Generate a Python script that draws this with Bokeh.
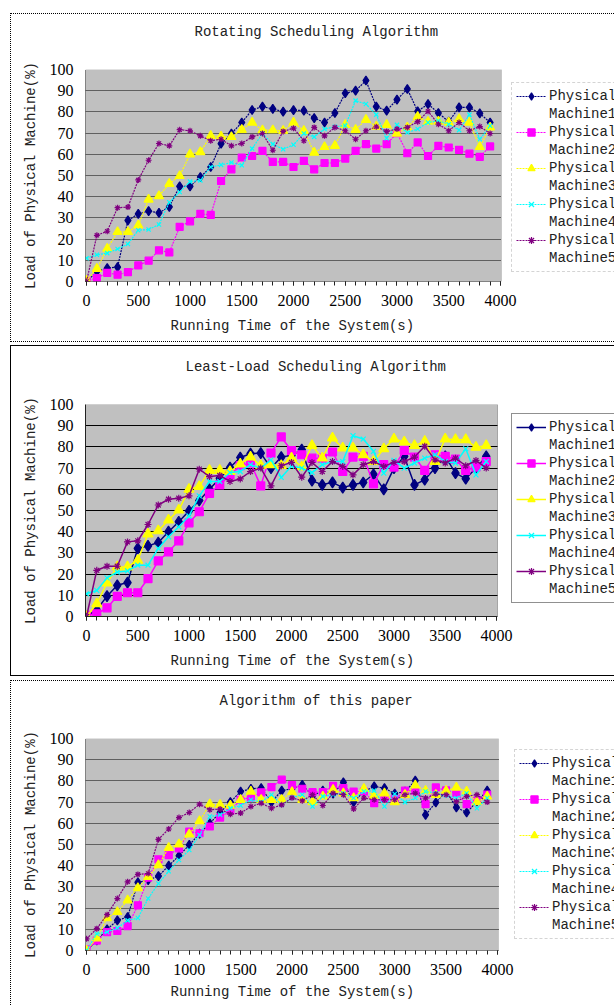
from bokeh.plotting import figure
from bokeh.layouts import column
from bokeh.models import Legend, LegendItem, SingleIntervalTicker, Range1d, Spacer, BoxAnnotation, Title
from bokeh.embed import file_html
from bokeh.resources import INLINE
from bokeh.core.properties import value

times = [0, 100, 200, 300, 400, 500, 600, 700, 800, 900,
         1000, 1100, 1200, 1300, 1400, 1500, 1600, 1700, 1800, 1900,
         2000, 2100, 2200, 2300, 2400, 2500, 2600, 2700, 2800, 2900,
         3000, 3100, 3200, 3300, 3400, 3500, 3600, 3700, 3800, 3900]

machines = ["Machine1", "Machine2", "Machine3", "Machine4", "Machine5"]

titles = ["Rotating Scheduling Algorithm", "Least-Load Scheduling Algorithm", "Algorithm of this paper"]
x_label = "Running Time of the System(s)"
y_label = "Load of Physical Machine(%)"

# Rotating Scheduling Algorithm
rot_m1 = [0, 4.7, 6.3, 6.8, 28.8, 31.9, 33.2, 32.4, 35.2, 44.9, 44.9, 49.3, 54.0, 65.0, 69.8, 75.0, 80.9, 82.5, 81.4, 80.1,
          80.8, 80.6, 77.1, 75.0, 79.5, 88.8, 90.0, 94.8, 82.5, 80.6, 85.8, 90.8, 80.3, 83.7, 79.5, 75.4, 82.1, 82.1, 79.3, 75.0]
rot_m2 = [0.3, 1.6, 4.1, 3.2, 4.4, 7.6, 9.8, 14.7, 13.7, 25.8, 28.4, 31.9, 31.4, 47.4, 52.9, 58.5, 59.2, 61.6, 56.4, 56.4,
          54.0, 56.9, 52.9, 55.9, 55.9, 58.0, 61.6, 64.8, 62.7, 64.8, 70.0, 60.5, 65.6, 59.2, 64.0, 63.2, 62.1, 60.3, 58.8, 63.7]
rot_m3 = [0.5, 6.0, 15.5, 23.4, 23.4, 26.5, 38.7, 40.3, 46.1, 49.8, 60.0, 61.1, 68.7, 68.4, 68.2, 71.6, 75.0, 71.4, 71.4, 71.1,
          75.0, 71.1, 60.8, 63.5, 64.0, 73.9, 71.6, 76.3, 73.1, 73.9, 69.8, 72.7, 77.7, 75.4, 75.5, 75.0, 76.6, 75.0, 63.5, 72.7]
rot_m4 = [11.0, 12.6, 13.4, 15.3, 17.7, 24.2, 24.5, 26.9, 37.4, 42.2, 47.1, 47.7, 54.0, 55.0, 56.1, 54.8, 62.7, 69.8, 64.8, 62.4,
          64.5, 69.8, 68.2, 71.9, 73.0, 73.5, 85.3, 83.7, 78.7, 67.6, 73.9, 70.3, 71.9, 75.0, 75.8, 74.2, 71.4, 78.7, 67.1, 73.5]
rot_m5 = [0, 21.8, 23.7, 34.8, 35.1, 47.9, 57.2, 65.1, 64.0, 71.6, 71.1, 68.7, 66.4, 67.1, 64.0, 65.1, 68.2, 69.8, 61.9, 70.8,
          72.3, 66.4, 72.7, 68.7, 72.7, 71.1, 67.1, 71.1, 73.0, 70.8, 71.9, 72.7, 75.4, 80.3, 74.2, 71.1, 75.0, 71.1, 73.1, 69.8]

# Least-Load Scheduling Algorithm
ll_m1 = [0, 3.2, 9.6, 14.7, 16.0, 32.1, 33.3, 34.9, 40.0, 44.7, 49.8, 54.7, 60.0, 65.2, 70.3, 75.0, 76.8, 77.1, 70.0, 75.2,
         76.0, 78.7, 64.1, 62.1, 63.3, 60.8, 62.1, 63.2, 67.1, 60.0, 70.0, 75.5, 62.1, 64.5, 70.0, 75.5, 67.6, 65.0, 70.0, 75.5]
ll_m2 = [0.5, 1.3, 4.1, 9.5, 11.2, 11.2, 17.9, 26.2, 30.5, 35.7, 44.2, 49.4, 58.1, 62.1, 66.8, 71.1, 72.4, 61.6, 77.1, 84.7,
         78.2, 76.3, 74.7, 74.7, 77.6, 68.4, 75.2, 75.5, 62.6, 71.6, 70.5, 78.4, 75.2, 68.9, 76.3, 75.5, 74.2, 68.9, 70.5, 73.1]
ll_m3 = [0, 6.0, 15.8, 23.4, 23.4, 26.5, 38.9, 40.4, 45.5, 50.2, 60.0, 61.3, 68.9, 68.9, 68.4, 71.9, 75.2, 71.2, 71.6, 71.2,
         74.7, 70.5, 80.6, 74.7, 84.2, 79.5, 79.5, 76.3, 73.1, 79.1, 83.7, 82.3, 80.6, 82.6, 73.1, 83.7, 83.4, 83.4, 79.8, 80.6]
ll_m4 = [10.7, 12.3, 18.2, 21.0, 21.5, 24.2, 24.2, 32.1, 37.6, 42.3, 47.4, 56.9, 63.7, 63.7, 67.9, 68.4, 71.6, 70.0, 73.9, 65.6,
         71.0, 70.0, 67.9, 71.6, 73.1, 73.1, 85.3, 83.7, 77.9, 67.6, 73.6, 70.0, 72.4, 74.7, 76.3, 73.1, 72.4, 79.1, 66.8, 73.1]
ll_m5 = [0, 21.8, 23.7, 23.7, 35.2, 35.7, 43.4, 52.6, 55.3, 55.8, 56.9, 69.5, 66.0, 66.5, 63.7, 64.9, 68.4, 70.0, 61.6, 71.1,
         72.7, 65.7, 72.7, 68.4, 73.1, 70.8, 66.8, 71.6, 73.1, 70.8, 72.7, 73.1, 75.2, 80.3, 73.9, 72.4, 74.7, 71.1, 73.6, 70.0]

# Algorithm of this paper
tp_m1 = [0, 4.7, 10.0, 14.2, 15.8, 32.1, 33.2, 35.1, 40.0, 44.7, 49.8, 55.1, 60.0, 65.1, 70.0, 75.0, 76.3, 76.6, 70.0, 75.4,
         76.3, 78.2, 73.0, 75.4, 74.0, 79.3, 70.0, 75.0, 77.4, 76.6, 74.0, 75.0, 80.1, 64.0, 69.8, 75.0, 67.5, 65.1, 70.3, 75.4]
tp_m2 = [0.5, 4.7, 8.7, 9.2, 11.5, 21.3, 34.4, 43.0, 45.0, 48.2, 56.1, 55.3, 58.5, 62.7, 66.0, 71.1, 72.2, 74.6, 77.1, 80.6,
         78.0, 76.3, 74.7, 74.7, 77.7, 76.6, 75.0, 75.0, 69.5, 71.9, 71.4, 75.4, 75.4, 69.0, 76.9, 75.5, 74.2, 69.0, 70.6, 73.5]
tp_m3 = [0, 5.8, 15.3, 18.2, 23.7, 29.5, 34.8, 40.3, 48.5, 50.1, 54.8, 61.1, 69.0, 68.7, 68.4, 71.1, 75.0, 71.1, 71.1, 71.1,
         74.8, 71.1, 70.0, 72.7, 75.8, 74.2, 71.9, 76.3, 73.1, 74.2, 70.0, 73.5, 77.9, 75.4, 73.5, 75.4, 76.9, 75.0, 70.0, 72.7]
tp_m4 = [0, 7.9, 8.7, 10.6, 14.2, 15.3, 24.5, 31.6, 37.4, 42.7, 47.4, 54.5, 63.2, 64.0, 67.1, 68.4, 71.1, 70.0, 73.5, 68.7,
         72.0, 73.5, 67.9, 72.7, 73.5, 74.2, 71.9, 75.0, 75.4, 67.9, 73.8, 70.0, 71.9, 75.0, 74.2, 73.1, 71.9, 74.2, 67.1, 71.9]
tp_m5 = [5.5, 10.3, 16.9, 24.5, 32.4, 35.9, 36.3, 52.4, 57.3, 62.7, 65.1, 69.0, 66.4, 66.7, 64.3, 64.8, 67.9, 69.5, 67.1, 68.7,
         72.0, 70.6, 73.5, 68.4, 74.2, 73.5, 66.8, 71.9, 71.1, 71.1, 71.1, 73.5, 74.2, 71.9, 73.8, 73.5, 70.3, 72.7, 73.5, 70.0]

colors = ["#000080", "#FF00FF", "#FFFF00", "#00FFFF", "#800080"]
markers = ["diamond", "square", "triangle", "x", "asterisk"]

MONO = "Liberation Mono"
SERIF = "Liberation Serif"
X0, X1 = -10, 4010      # extent of the grey plot area in data units
FRAME_W = 530           # frame runs to the right edge of the canvas (legend sits inside it)


def text_title(text, offset, standoff):
    return Title(text=text, align="left", offset=offset, standoff=standoff,
                 text_font=MONO, text_font_size="14px", text_font_style="normal",
                 text_color="#222222")


def make_panel(title, title_off, series, height, frame_top, plot_w, bottom, xlab_standoff,
               solid, legend_pos, css):
    x_end = X0 + FRAME_W * (X1 - X0) / plot_w
    p = figure(width=604, height=height, output_backend="svg", toolbar_location=None, title=None,
               x_range=Range1d(X0, x_end), y_range=Range1d(0, 100),
               min_border_left=74, min_border_right=0,
               min_border_top=frame_top, min_border_bottom=bottom)
    p.styles = css
    p.margin = (0, 0, 0, 10)
    p.background_fill_color = "white"
    p.border_fill_color = "white"
    p.outline_line_color = None

    dash = "solid" if solid else "1 1"
    p.add_layout(BoxAnnotation(left=X0, right=X1, bottom=0, top=100, level="image",
                               fill_color="#C0C0C0", fill_alpha=1,
                               line_color="#222222" if solid else "#444444",
                               line_dash=dash, line_width=1))

    p.xgrid.visible = False
    p.ygrid.ticker = SingleIntervalTicker(interval=10)
    p.ygrid.grid_line_color = "black"
    p.ygrid.grid_line_width = 1
    p.ygrid.grid_line_dash = dash
    p.ygrid.cross_bounds = (X0, X1)

    # chart title: a blank spacer title next to the frame, then the real one above it
    p.add_layout(text_title(" ", 0, 12), "above")
    p.add_layout(text_title(title, title_off, 0), "above")

    xa = p.xaxis[0]
    xa.bounds = (X0, X1)
    xa.ticker = SingleIntervalTicker(interval=500, num_minor_ticks=5)
    xa.axis_line_color = "#222222"
    xa.axis_line_dash = dash
    xa.major_tick_out = 4
    xa.major_tick_in = 0
    xa.minor_tick_out = 4
    xa.minor_tick_in = 0
    xa.major_tick_line_color = "#222222"
    xa.minor_tick_line_color = "#222222"
    xa.major_label_text_font = SERIF
    xa.major_label_text_font_size = "16px"
    xa.major_label_text_color = "black"
    xa.major_label_standoff = 9
    # x-axis title centred under the grey plot area
    p.add_layout(text_title(x_label, 85, xlab_standoff), "below")

    ya = p.yaxis[0]
    ya.ticker = SingleIntervalTicker(interval=10)
    ya.axis_line_color = "#222222"
    ya.axis_line_dash = dash
    ya.major_tick_out = 0
    ya.major_tick_in = 0
    ya.minor_tick_out = 0
    ya.minor_tick_in = 0
    ya.major_label_text_font = SERIF
    ya.major_label_text_font_size = "16px"
    ya.major_label_text_color = "black"
    ya.major_label_standoff = 12
    ya.axis_label = y_label
    ya.axis_label_text_font = MONO
    ya.axis_label_text_font_size = "14px"
    ya.axis_label_text_font_style = "normal"
    ya.axis_label_text_color = "#222222"
    ya.axis_label_standoff = 8

    items = []
    for name, vals, c, m in zip(machines, series, colors, markers):
        if solid:
            lr = p.line(times, vals, line_color=c, line_width=1.5)
            msize = {"diamond": 11, "square": 8, "triangle": 10, "x": 7, "asterisk": 7}[m]
        else:
            lr = p.line(times, vals, line_color=c, line_width=1.2, line_dash="2 1")
            msize = {"diamond": 9, "square": 7, "triangle": 9, "x": 6, "asterisk": 6}[m]
        sr = p.scatter(times, vals, marker=m, size=msize, fill_color=c, line_color=c, line_width=1.2)
        dummy = p.line([0], [0], line_alpha=0)
        items.append(LegendItem(label=value("Physical"), renderers=[lr, sr]))
        items.append(LegendItem(label=value(name), renderers=[dummy]))

    leg = Legend(items=items, location=legend_pos, orientation="vertical",
                 label_text_font=MONO, label_text_font_size="14px", label_text_color="#222222",
                 label_height=18, glyph_height=18, glyph_width=30, spacing=0, padding=4,
                 label_standoff=3, margin=0,
                 border_line_color="#222222" if solid else "#AAAAAA",
                 border_line_dash=dash,
                 background_fill_color="white", background_fill_alpha=1)
    p.add_layout(leg, "center")
    return p


p1 = make_panel(titles[0], 109, [rot_m1, rot_m2, rot_m3, rot_m4, rot_m5], 329, 55, 416, 62, 15, False, (426, 9),
                {"border-left": "1px dotted #000", "border-top": "1px dotted #000", "border-bottom": "1px dotted #000"})
p2 = make_panel(titles[1], 100, [ll_m1, ll_m2, ll_m3, ll_m4, ll_m5], 331, 58, 412, 61, 14, True, (426, 13),
                {"border-left": "1px solid #000", "border-top": "1px solid #000", "border-bottom": "1px solid #000"})
p3 = make_panel(titles[2], 134, [tp_m1, tp_m2, tp_m3, tp_m4, tp_m5], 325, 57, 413, 56, 9, False, (429, 11),
                {"border-left": "1px dotted #000", "border-top": "1px dotted #000"})

layout = column(Spacer(height=13), p1, Spacer(height=3), p2, Spacer(height=4), p3, spacing=0)
open("out.html", "w").write(file_html(layout, INLINE))
